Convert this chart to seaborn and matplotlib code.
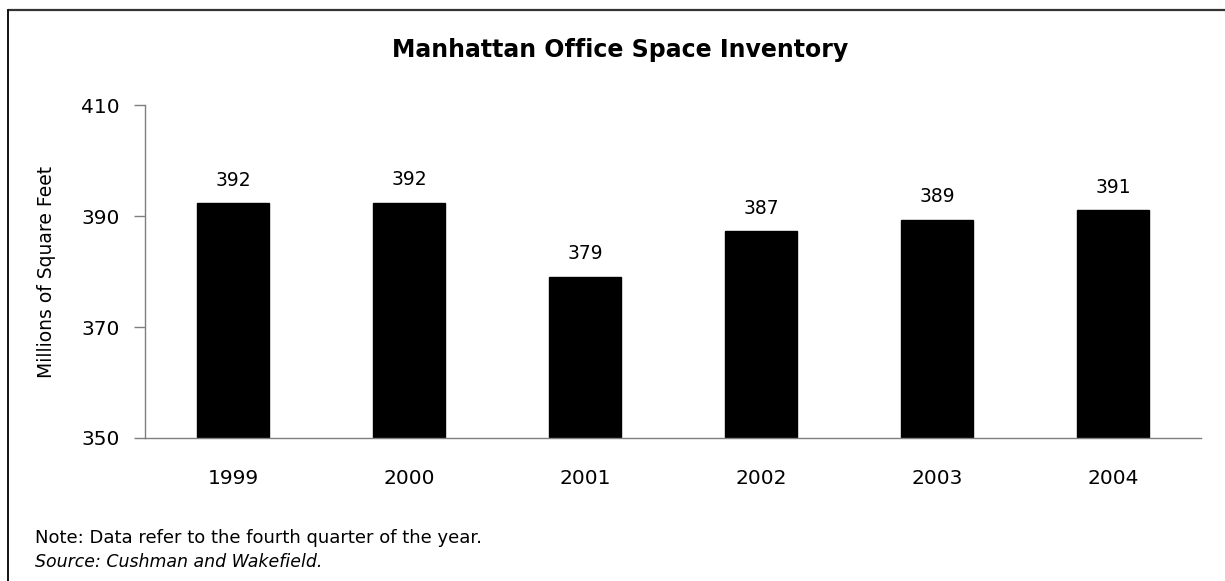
import matplotlib
matplotlib.use("Agg")
import matplotlib.pyplot as plt
from matplotlib.lines import Line2D
import seaborn as sns
import pandas as pd

# Fourth-quarter office inventory, millions of square feet
years = ["1999", "2000", "2001", "2002", "2003", "2004"]
inventory = [392.35, 392.45, 379.1, 387.35, 389.39, 391.14]
y_ticks = [350, 370, 390, 410]

title = "Manhattan Office Space Inventory"
y_label = "Millions of Square Feet"
note = "Note: Data refer to the fourth quarter of the year."
source = "Source: Cushman and Wakefield."

sns.set_theme(style="white")
plt.rcParams["font.family"] = ["DejaVu Sans"]
plt.rcParams["text.color"] = "black"
plt.rcParams["axes.labelcolor"] = "black"
plt.rcParams["xtick.color"] = "black"
plt.rcParams["ytick.color"] = "black"

df = pd.DataFrame({"year": years, "inventory": inventory})

W, H = 1225, 581
fig = plt.figure(figsize=(W / 100, H / 100), dpi=100)
fig.patch.set_facecolor("white")
ax = fig.add_axes([145 / W, 1 - 438 / H, (1201 - 145) / W, (438 - 105.5) / H])

sns.barplot(data=df, x="year", y="inventory", color="black", width=0.41,
            saturation=1, ax=ax, edgecolor="black")

ax.set_ylim(350, 410)
ax.set_yticks(y_ticks)
ax.set_yticklabels([str(v) for v in y_ticks], fontsize=14.5)
ax.set_xlabel("")
ax.set_ylabel(y_label, fontsize=13.5, labelpad=18)
ax.tick_params(axis="y", length=8, width=1, color="#7f7f7f", labelcolor="black",
               pad=10, left=True)
ax.tick_params(axis="x", length=0, pad=22, labelsize=14.5, labelcolor="black")

for side in ["top", "right"]:
    ax.spines[side].set_visible(False)
for side in ["left", "bottom"]:
    ax.spines[side].set_color("#7f7f7f")
    ax.spines[side].set_linewidth(1)

# Value labels above each bar
for i, v in enumerate(inventory):
    ax.annotate(f"{round(v):d}", xy=(i, v), xytext=(0, 16.5), textcoords="offset points",
                ha="center", va="center", fontsize=13.5, color="black")

fig.text(620 / W, 1 - 50 / H, title, ha="center", va="center",
         fontsize=17, fontweight="bold", color="black")
fig.text(35 / W, 1 - 538 / H, note, ha="left", va="center", fontsize=13, color="black")
fig.text(35 / W, 1 - 562 / H, source, ha="left", va="center", fontsize=12.5,
         style="italic", color="black")

# Frame along the top and left of the figure
fig.add_artist(Line2D([8 / W, 1], [1 - 9.5 / H, 1 - 9.5 / H], color="#333333", lw=1.6,
                      transform=fig.transFigure))
fig.add_artist(Line2D([8 / W, 8 / W], [0, 1 - 9.5 / H], color="#111111", lw=1.4,
                      transform=fig.transFigure))

fig.savefig("out.png", dpi=100, facecolor="white")
